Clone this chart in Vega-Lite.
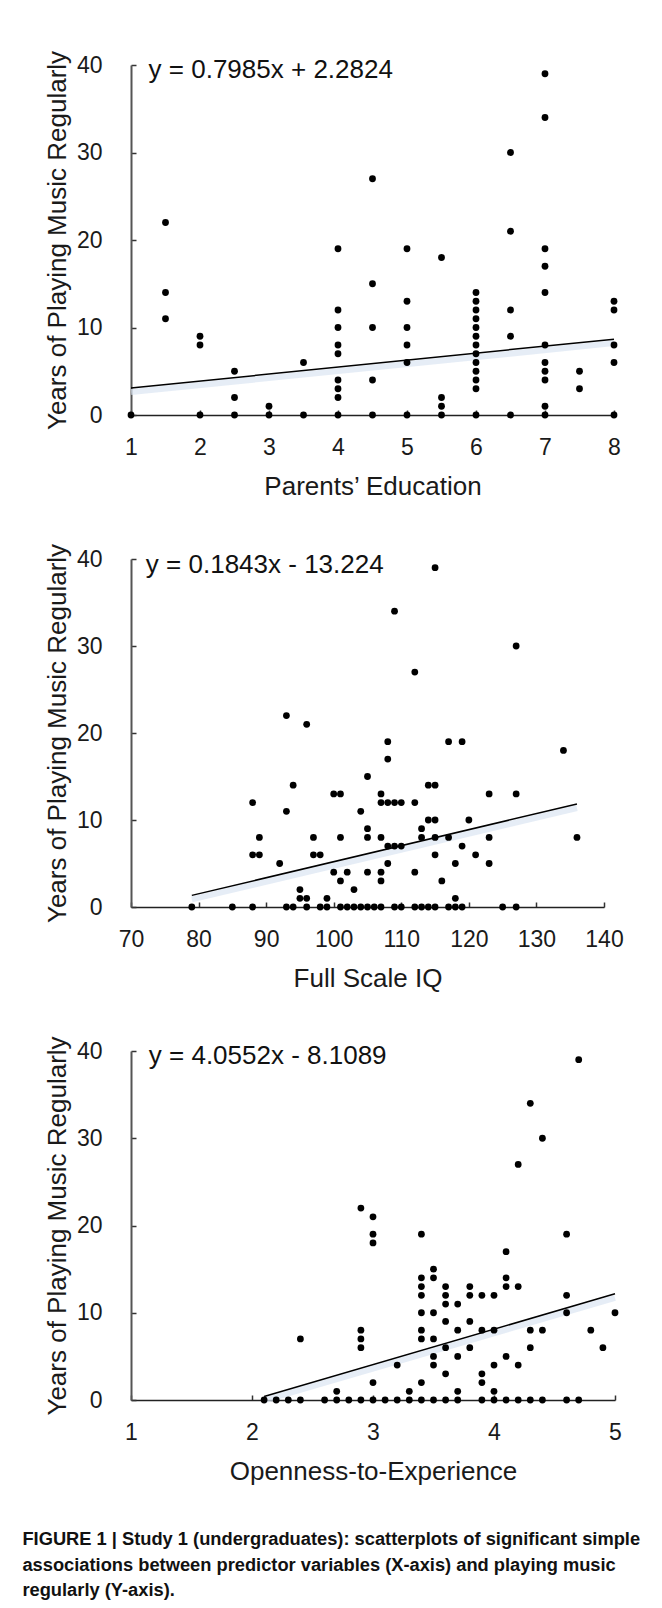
{
  "$schema": "https://vega.github.io/schema/vega-lite/v6.json",
  "background": "white",
  "padding": {"left": 22, "top": 50, "right": 6, "bottom": 6},
  "bounds": "flush",
  "spacing": 144,
  "config": {
    "font": "Liberation Sans",
    "view": {"stroke": null},
    "axis": {
      "grid": false,
      "labelFont": "Liberation Sans",
      "labelFontSize": 23,
      "labelColor": "#1a1a1a",
      "titleFont": "Liberation Sans",
      "titleFontSize": 26,
      "titleFontWeight": "normal",
      "titleColor": "#1a1a1a",
      "tickSize": -5,
      "tickWidth": 1.5,
      "tickColor": "#333333",
      "domainColor": "#222222",
      "domainWidth": 1.5,
      "labelFlush": false,
      "labelOverlap": false,
      "format": "d"
    },
    "axisY": {"labelPadding": 34, "titlePadding": 6, "domainColor": "#555555", "domainWidth": 2},
    "axisX": {"labelPadding": 26, "titlePadding": 14}
  },
  "title": {
    "text": [
      "FIGURE 1 | Study 1 (undergraduates): scatterplots of significant simple",
      "associations between predictor variables (X-axis) and playing music",
      "regularly (Y-axis)."
    ],
    "orient": "bottom",
    "anchor": "start",
    "font": "Liberation Sans",
    "fontSize": 18.3,
    "fontWeight": "bold",
    "color": "#111111",
    "lineHeight": 25.5,
    "offset": 47,
    "dx": -22
  },
  "vconcat": [
    {
      "width": 483,
      "height": 350,
      "layer": [
        {
          "data": {"values": [{"x": 1, "y": 3.0809}, {"x": 8, "y": 8.6704}]},
          "mark": {"type": "line", "color": "#dbe5f2", "strokeWidth": 6, "yOffset": 4, "opacity": 0.7},
          "encoding": {"x": {"field": "x", "type": "quantitative"}, "y": {"field": "y", "type": "quantitative"}}
        },
        {
          "data": {"values": [{"x": 1, "y": 3.0809}, {"x": 8, "y": 8.6704}]},
          "mark": {"type": "line", "color": "#000000", "strokeWidth": 1.5},
          "encoding": {"x": {"field": "x", "type": "quantitative"}, "y": {"field": "y", "type": "quantitative"}}
        },
        {
          "data": {"values": [
            {"x": 1, "y": 0},
            {"x": 1.5, "y": 22}, {"x": 1.5, "y": 14}, {"x": 1.5, "y": 11},
            {"x": 2, "y": 9}, {"x": 2, "y": 8}, {"x": 2, "y": 0},
            {"x": 2.5, "y": 5}, {"x": 2.5, "y": 2}, {"x": 2.5, "y": 0},
            {"x": 3, "y": 1}, {"x": 3, "y": 0},
            {"x": 3.5, "y": 6}, {"x": 3.5, "y": 0},
            {"x": 4, "y": 19}, {"x": 4, "y": 12}, {"x": 4, "y": 10}, {"x": 4, "y": 8}, {"x": 4, "y": 7}, {"x": 4, "y": 4}, {"x": 4, "y": 3}, {"x": 4, "y": 2}, {"x": 4, "y": 0},
            {"x": 4.5, "y": 27}, {"x": 4.5, "y": 15}, {"x": 4.5, "y": 10}, {"x": 4.5, "y": 4}, {"x": 4.5, "y": 0},
            {"x": 5, "y": 19}, {"x": 5, "y": 13}, {"x": 5, "y": 10}, {"x": 5, "y": 8}, {"x": 5, "y": 6}, {"x": 5, "y": 0},
            {"x": 5.5, "y": 18}, {"x": 5.5, "y": 2}, {"x": 5.5, "y": 1}, {"x": 5.5, "y": 0},
            {"x": 6, "y": 14}, {"x": 6, "y": 13}, {"x": 6, "y": 12}, {"x": 6, "y": 11}, {"x": 6, "y": 10}, {"x": 6, "y": 9}, {"x": 6, "y": 8}, {"x": 6, "y": 7}, {"x": 6, "y": 6}, {"x": 6, "y": 5}, {"x": 6, "y": 4}, {"x": 6, "y": 3}, {"x": 6, "y": 0},
            {"x": 6.5, "y": 30}, {"x": 6.5, "y": 21}, {"x": 6.5, "y": 12}, {"x": 6.5, "y": 9}, {"x": 6.5, "y": 0},
            {"x": 7, "y": 39}, {"x": 7, "y": 34}, {"x": 7, "y": 19}, {"x": 7, "y": 17}, {"x": 7, "y": 14}, {"x": 7, "y": 8}, {"x": 7, "y": 6}, {"x": 7, "y": 5}, {"x": 7, "y": 4}, {"x": 7, "y": 1}, {"x": 7, "y": 0},
            {"x": 7.5, "y": 5}, {"x": 7.5, "y": 3},
            {"x": 8, "y": 13}, {"x": 8, "y": 12}, {"x": 8, "y": 8}, {"x": 8, "y": 6}, {"x": 8, "y": 0}
          ]},
          "mark": {"type": "circle", "size": 46, "color": "#000000", "opacity": 1},
          "encoding": {
            "x": {"field": "x", "type": "quantitative", "scale": {"domain": [1, 8], "nice": false, "zero": false},
                  "axis": {"values": [1, 2, 3, 4, 5, 6, 7, 8], "title": "Parents’ Education"}},
            "y": {"field": "y", "type": "quantitative", "scale": {"domain": [0, 40], "nice": false},
                  "axis": {"values": [0, 10, 20, 30, 40], "title": "Years of Playing Music Regularly"}}
          }
        },
        {
          "data": {"values": [{"equation": "y = 0.7985x + 2.2824"}]},
          "mark": {"type": "text", "align": "left", "baseline": "alphabetic", "fontSize": 26, "font": "Liberation Sans", "color": "#111111"},
          "encoding": {
            "x": {"datum": 1.255, "type": "quantitative"},
            "y": {"datum": 38.5, "type": "quantitative"},
            "text": {"field": "equation"}
          }
        }
      ]
    },
    {
      "width": 473,
      "height": 348,
      "layer": [
        {
          "data": {"values": [{"x": 79, "y": 1.3357}, {"x": 136, "y": 11.8408}]},
          "mark": {"type": "line", "color": "#dbe5f2", "strokeWidth": 6, "yOffset": 4, "opacity": 0.7},
          "encoding": {"x": {"field": "x", "type": "quantitative"}, "y": {"field": "y", "type": "quantitative"}}
        },
        {
          "data": {"values": [{"x": 79, "y": 1.3357}, {"x": 136, "y": 11.8408}]},
          "mark": {"type": "line", "color": "#000000", "strokeWidth": 1.5},
          "encoding": {"x": {"field": "x", "type": "quantitative"}, "y": {"field": "y", "type": "quantitative"}}
        },
        {
          "data": {"values": [
            {"x": 79, "y": 0}, {"x": 85, "y": 0}, {"x": 88, "y": 0}, {"x": 93, "y": 0}, {"x": 94, "y": 0}, {"x": 96, "y": 0}, {"x": 98, "y": 0}, {"x": 99, "y": 0}, {"x": 101, "y": 0}, {"x": 102, "y": 0}, {"x": 103, "y": 0}, {"x": 104, "y": 0}, {"x": 105, "y": 0}, {"x": 106, "y": 0}, {"x": 107, "y": 0}, {"x": 109, "y": 0}, {"x": 110, "y": 0}, {"x": 112, "y": 0}, {"x": 113, "y": 0}, {"x": 114, "y": 0}, {"x": 115, "y": 0}, {"x": 117, "y": 0}, {"x": 118, "y": 0}, {"x": 119, "y": 0}, {"x": 125, "y": 0}, {"x": 127, "y": 0},
            {"x": 88, "y": 12}, {"x": 93, "y": 11}, {"x": 94, "y": 14}, {"x": 88, "y": 6}, {"x": 89, "y": 6}, {"x": 89, "y": 8}, {"x": 92, "y": 5}, {"x": 95, "y": 2}, {"x": 95, "y": 1}, {"x": 96, "y": 1}, {"x": 99, "y": 1},
            {"x": 97, "y": 8}, {"x": 97, "y": 6}, {"x": 98, "y": 6}, {"x": 101, "y": 8}, {"x": 100, "y": 4}, {"x": 101, "y": 3}, {"x": 102, "y": 4}, {"x": 103, "y": 2},
            {"x": 105, "y": 9}, {"x": 105, "y": 8}, {"x": 105, "y": 4}, {"x": 107, "y": 8}, {"x": 107, "y": 4}, {"x": 107, "y": 3}, {"x": 108, "y": 7}, {"x": 109, "y": 7}, {"x": 110, "y": 7}, {"x": 108, "y": 5},
            {"x": 112, "y": 4}, {"x": 113, "y": 9}, {"x": 113, "y": 8}, {"x": 114, "y": 10}, {"x": 115, "y": 10}, {"x": 115, "y": 8}, {"x": 115, "y": 6}, {"x": 116, "y": 3}, {"x": 117, "y": 8}, {"x": 118, "y": 5}, {"x": 118, "y": 1}, {"x": 119, "y": 7}, {"x": 120, "y": 10}, {"x": 121, "y": 6}, {"x": 123, "y": 8}, {"x": 123, "y": 5}, {"x": 136, "y": 8},
            {"x": 96, "y": 21}, {"x": 93, "y": 22}, {"x": 108, "y": 19}, {"x": 117, "y": 19}, {"x": 119, "y": 19}, {"x": 108, "y": 17}, {"x": 105, "y": 15}, {"x": 114, "y": 14}, {"x": 115, "y": 14},
            {"x": 100, "y": 13}, {"x": 101, "y": 13}, {"x": 107, "y": 13}, {"x": 123, "y": 13}, {"x": 127, "y": 13},
            {"x": 107, "y": 12}, {"x": 108, "y": 12}, {"x": 109, "y": 12}, {"x": 110, "y": 12}, {"x": 112, "y": 12}, {"x": 104, "y": 11},
            {"x": 115, "y": 39}, {"x": 109, "y": 34}, {"x": 127, "y": 30}, {"x": 112, "y": 27}, {"x": 134, "y": 18}
          ]},
          "mark": {"type": "circle", "size": 46, "color": "#000000", "opacity": 1},
          "encoding": {
            "x": {"field": "x", "type": "quantitative", "scale": {"domain": [70, 140], "nice": false, "zero": false},
                  "axis": {"values": [70, 80, 90, 100, 110, 120, 130, 140], "title": "Full Scale IQ"}},
            "y": {"field": "y", "type": "quantitative", "scale": {"domain": [0, 40], "nice": false},
                  "axis": {"values": [0, 10, 20, 30, 40], "title": "Years of Playing Music Regularly"}}
          }
        },
        {
          "data": {"values": [{"equation": "y = 0.1843x - 13.224"}]},
          "mark": {"type": "text", "align": "left", "baseline": "alphabetic", "fontSize": 26, "font": "Liberation Sans", "color": "#111111"},
          "encoding": {
            "x": {"datum": 72.2, "type": "quantitative"},
            "y": {"datum": 38.4, "type": "quantitative"},
            "text": {"field": "equation"}
          }
        }
      ]
    },
    {
      "width": 484,
      "height": 349,
      "layer": [
        {
          "data": {"values": [{"x": 2.1, "y": 0.407}, {"x": 5, "y": 12.1671}]},
          "mark": {"type": "line", "color": "#dbe5f2", "strokeWidth": 6, "yOffset": 4, "opacity": 0.7},
          "encoding": {"x": {"field": "x", "type": "quantitative"}, "y": {"field": "y", "type": "quantitative"}}
        },
        {
          "data": {"values": [{"x": 2.1, "y": 0.407}, {"x": 5, "y": 12.1671}]},
          "mark": {"type": "line", "color": "#000000", "strokeWidth": 1.5},
          "encoding": {"x": {"field": "x", "type": "quantitative"}, "y": {"field": "y", "type": "quantitative"}}
        },
        {
          "data": {"values": [
            {"x": 2.1, "y": 0}, {"x": 2.2, "y": 0}, {"x": 2.3, "y": 0}, {"x": 2.4, "y": 0}, {"x": 2.6, "y": 0}, {"x": 2.7, "y": 0}, {"x": 2.8, "y": 0}, {"x": 2.9, "y": 0}, {"x": 3.0, "y": 0}, {"x": 3.1, "y": 0}, {"x": 3.2, "y": 0}, {"x": 3.3, "y": 0}, {"x": 3.4, "y": 0}, {"x": 3.5, "y": 0}, {"x": 3.6, "y": 0}, {"x": 3.7, "y": 0}, {"x": 3.9, "y": 0}, {"x": 4.0, "y": 0}, {"x": 4.1, "y": 0}, {"x": 4.2, "y": 0}, {"x": 4.3, "y": 0}, {"x": 4.4, "y": 0}, {"x": 4.6, "y": 0}, {"x": 4.7, "y": 0},
            {"x": 2.4, "y": 7}, {"x": 2.7, "y": 1},
            {"x": 2.9, "y": 22}, {"x": 2.9, "y": 8}, {"x": 2.9, "y": 7}, {"x": 2.9, "y": 6},
            {"x": 3.0, "y": 21}, {"x": 3.0, "y": 19}, {"x": 3.0, "y": 18}, {"x": 3.0, "y": 2},
            {"x": 3.2, "y": 4}, {"x": 3.3, "y": 1},
            {"x": 3.4, "y": 19}, {"x": 3.4, "y": 14}, {"x": 3.4, "y": 13}, {"x": 3.4, "y": 12}, {"x": 3.4, "y": 10}, {"x": 3.4, "y": 8}, {"x": 3.4, "y": 7}, {"x": 3.4, "y": 2},
            {"x": 3.5, "y": 15}, {"x": 3.5, "y": 14}, {"x": 3.5, "y": 10}, {"x": 3.5, "y": 7}, {"x": 3.5, "y": 5}, {"x": 3.5, "y": 4},
            {"x": 3.6, "y": 13}, {"x": 3.6, "y": 12}, {"x": 3.6, "y": 11}, {"x": 3.6, "y": 9}, {"x": 3.6, "y": 6}, {"x": 3.6, "y": 3},
            {"x": 3.7, "y": 11}, {"x": 3.7, "y": 8}, {"x": 3.7, "y": 5}, {"x": 3.7, "y": 1},
            {"x": 3.8, "y": 13}, {"x": 3.8, "y": 12}, {"x": 3.8, "y": 9}, {"x": 3.8, "y": 6},
            {"x": 3.9, "y": 12}, {"x": 3.9, "y": 8}, {"x": 3.9, "y": 3}, {"x": 3.9, "y": 2},
            {"x": 4.0, "y": 12}, {"x": 4.0, "y": 8}, {"x": 4.0, "y": 4}, {"x": 4.0, "y": 1},
            {"x": 4.1, "y": 17}, {"x": 4.1, "y": 14}, {"x": 4.1, "y": 13}, {"x": 4.1, "y": 5},
            {"x": 4.2, "y": 27}, {"x": 4.2, "y": 13}, {"x": 4.2, "y": 4},
            {"x": 4.3, "y": 34}, {"x": 4.3, "y": 8}, {"x": 4.3, "y": 6},
            {"x": 4.4, "y": 30}, {"x": 4.4, "y": 8},
            {"x": 4.6, "y": 19}, {"x": 4.6, "y": 12}, {"x": 4.6, "y": 10},
            {"x": 4.7, "y": 39}, {"x": 4.8, "y": 8}, {"x": 4.9, "y": 6}, {"x": 5.0, "y": 10}
          ]},
          "mark": {"type": "circle", "size": 46, "color": "#000000", "opacity": 1},
          "encoding": {
            "x": {"field": "x", "type": "quantitative", "scale": {"domain": [1, 5], "nice": false, "zero": false},
                  "axis": {"values": [1, 2, 3, 4, 5], "title": "Openness-to-Experience"}},
            "y": {"field": "y", "type": "quantitative", "scale": {"domain": [0, 40], "nice": false},
                  "axis": {"values": [0, 10, 20, 30, 40], "title": "Years of Playing Music Regularly"}}
          }
        },
        {
          "data": {"values": [{"equation": "y = 4.0552x - 8.1089"}]},
          "mark": {"type": "text", "align": "left", "baseline": "alphabetic", "fontSize": 26, "font": "Liberation Sans", "color": "#111111"},
          "encoding": {
            "x": {"datum": 1.147, "type": "quantitative"},
            "y": {"datum": 38.55, "type": "quantitative"},
            "text": {"field": "equation"}
          }
        }
      ]
    }
  ]
}
